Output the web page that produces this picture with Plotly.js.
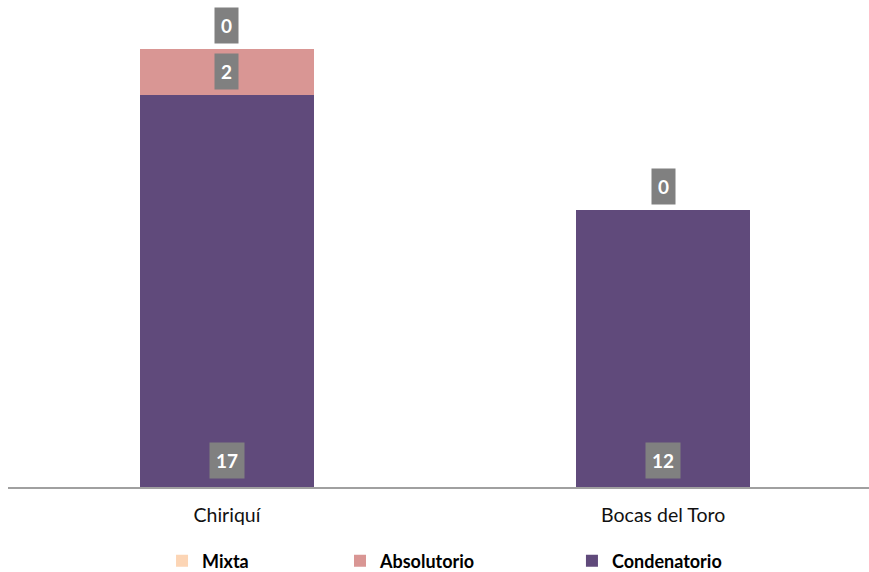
<!DOCTYPE html>
<html>
<head>
<meta charset="utf-8">
<script src="https://cdn.plot.ly/plotly-3.0.1.min.js"></script>
<style>html,body{margin:0;padding:0;background:#fff;}#chart{width:869px;height:572px;}</style>
</head>
<body>
<div id="chart"></div>
<script>
const categories = ["Chiriquí", "Bocas del Toro"];
const condenatorio = [17, 12];
const absolutorio = [2, 0];
const mixta = [0, 0];
const seriesNames = ["Condenatorio", "Absolutorio", "Mixta"];
const seriesColors = ["#604A7B", "#D99694", "#FCD5B5"];

const FONT = "Lato, 'Open Sans', sans-serif";

const traces = [condenatorio, absolutorio, mixta].map((vals, i) => ({
  type: "bar",
  name: seriesNames[i],
  x: categories,
  y: vals,
  marker: {color: seriesColors[i]},
  legend: i === 0 ? "legend3" : (i === 1 ? "legend2" : "legend"),
  hoverinfo: "x+y+name"
}));

const annotations = [];
const labelStyle = {
  showarrow: false,
  bgcolor: "#808080",
  borderpad: 6,
  font: {family: FONT, size: 19, color: "#ffffff", weight: "bold"},
  xref: "x", yref: "y"
};
categories.forEach((c, i) => {
  // Condenatorio label at base
  annotations.push(Object.assign({}, labelStyle, {
    x: c, y: 0, yanchor: "bottom", yshift: 8,
    text: "<b>" + condenatorio[i] + "</b>"
  }));
  // Absolutorio label centered in its segment (only when visible)
  if (absolutorio[i] > 0) {
    annotations.push(Object.assign({}, labelStyle, {
      x: c, y: condenatorio[i] + absolutorio[i] / 2, yanchor: "middle",
      text: "<b>" + absolutorio[i] + "</b>"
    }));
  }
  // Mixta label above the stack
  annotations.push(Object.assign({}, labelStyle, {
    x: c, y: condenatorio[i] + absolutorio[i] + mixta[i], yanchor: "bottom", yshift: 5,
    text: "<b>" + mixta[i] + "</b>"
  }));
});

const legendBase = {
  orientation: "h",
  yref: "container",
  yanchor: "middle",
  y: 0.019,
  xanchor: "left",
  bgcolor: "rgba(0,0,0,0)",
  font: {family: FONT, size: 18, color: "#000000", weight: "bold"}
};

const layout = {
  width: 869,
  height: 572,
  margin: {l: 8, r: 0, t: 0, b: 85, autoexpand: false},
  paper_bgcolor: "#ffffff",
  plot_bgcolor: "#ffffff",
  barmode: "stack",
  bargap: 0.6,
  showlegend: true,
  font: {family: FONT, color: "#1a1a1a"},
  xaxis: {
    range: [-0.502, 1.472],
    showline: true,
    linecolor: "#A0A0A0",
    linewidth: 2,
    showgrid: false,
    zeroline: false,
    ticks: "outside",
    ticklen: 10,
    tickcolor: "rgba(0,0,0,0)",
    tickfont: {family: FONT, size: 19.5, color: "#111111"},
    fixedrange: true
  },
  yaxis: {
    range: [0, 21.12],
    visible: false,
    showgrid: false,
    zeroline: false,
    fixedrange: true
  },
  legend: Object.assign({}, legendBase, {x: 0.1789}),
  legend2: Object.assign({}, legendBase, {x: 0.3856}),
  legend3: Object.assign({}, legendBase, {x: 0.655}),
  annotations: annotations
};

Plotly.newPlot("chart", traces, layout, {displayModeBar: false, staticPlot: true});
</script>
</body>
</html>
